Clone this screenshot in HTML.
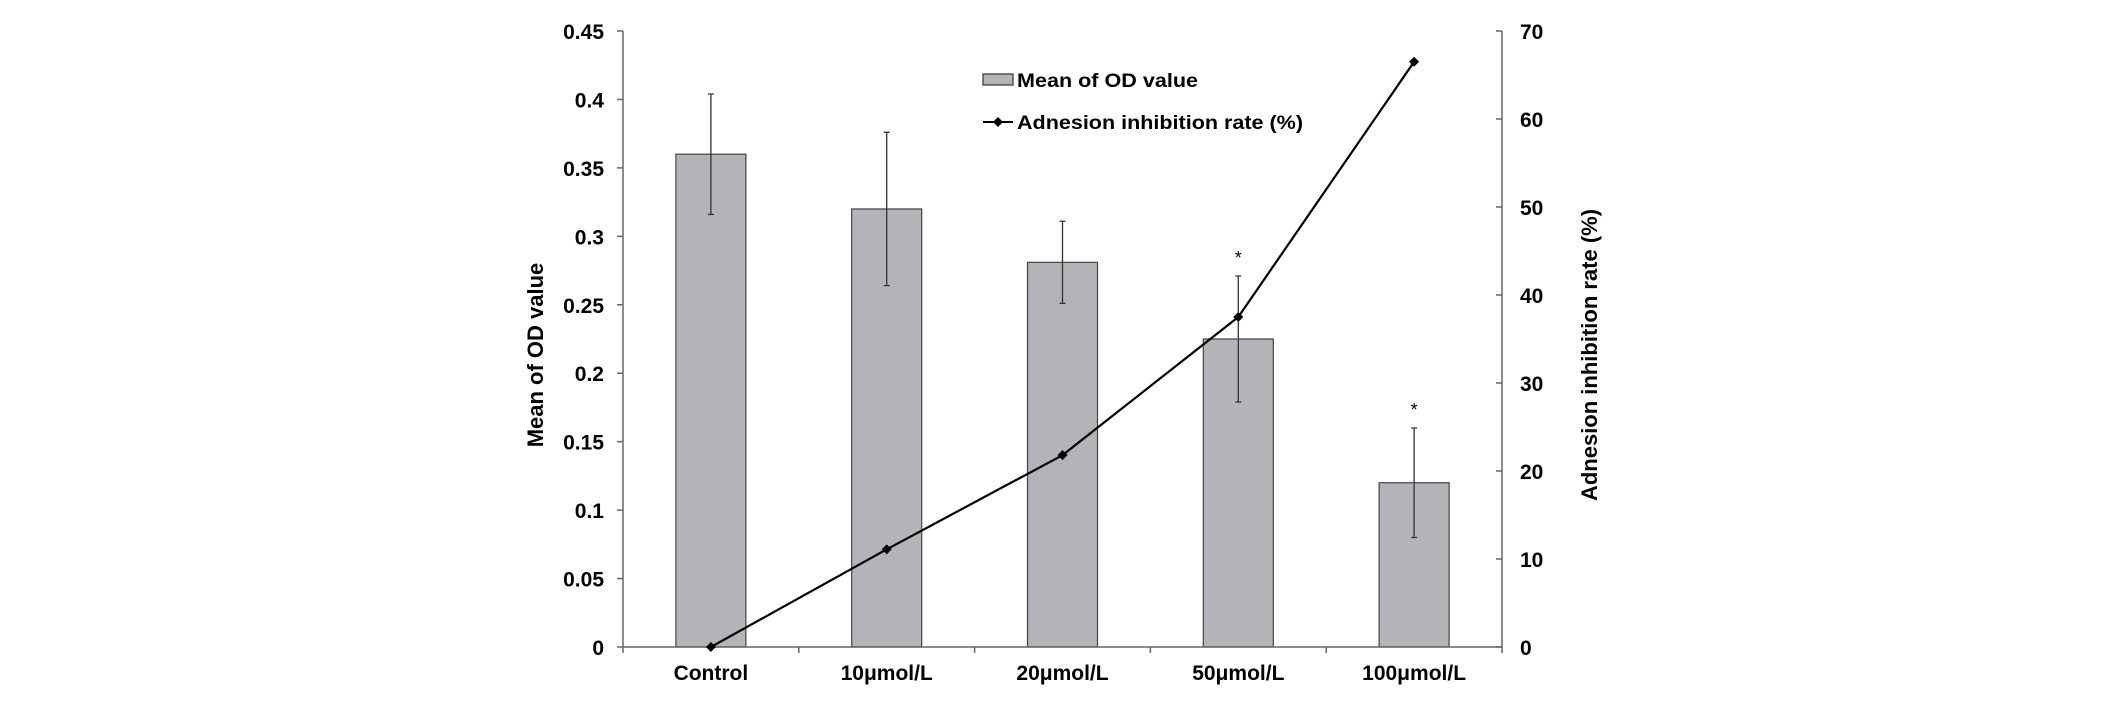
<!DOCTYPE html>
<html><head><meta charset="utf-8"><style>
html,body{margin:0;padding:0;background:#fff;}
svg{display:block;font-family:"Liberation Sans",Arial,sans-serif;font-weight:bold;}
</style></head><body>
<svg id="chart" width="2126" height="702" viewBox="0 0 2126 702" xmlns="http://www.w3.org/2000/svg">
<g id="g"></g>
<text x="0" y="0" font-size="22" text-anchor="middle" transform="translate(543,355) rotate(-90)">Mean of OD value</text>
<text x="0" y="0" font-size="22" text-anchor="middle" transform="translate(1597,355) rotate(-90)">Adnesion inhibition rate (%)</text>
<g>
<rect x="983" y="74" width="30" height="11" fill="#b4b4b8" stroke="#333" stroke-width="1.2"/>
<text x="1017" y="87" font-size="19" textLength="181" lengthAdjust="spacingAndGlyphs">Mean of OD value</text>
<line x1="983" y1="122" x2="1013" y2="122" stroke="#000" stroke-width="2"/>
<path d="M998 117 L1003 122 L998 127 L993 122 Z" fill="#000"/>
<text x="1017" y="129" font-size="19" textLength="286" lengthAdjust="spacingAndGlyphs">Adnesion inhibition rate (%)</text>
</g>
</svg>
<script>
const categories = ["Control","10μmol/L","20μmol/L","50μmol/L","100μmol/L"];
const odValues = [0.36, 0.32, 0.281, 0.225, 0.12];
const odErrors = [0.044, 0.056, 0.03, 0.046, 0.04];
const inhibitionRates = [0, 11.1, 21.8, 37.5, 66.5];
const significant = [false, false, false, true, true];
const leftTicks = [0, 0.05, 0.1, 0.15, 0.2, 0.25, 0.3, 0.35, 0.4, 0.45];
const leftTickLabels = ["0","0.05","0.1","0.15","0.2","0.25","0.3","0.35","0.4","0.45"];
const rightTicks = [0,10,20,30,40,50,60,70];

const X0=623, X1=1502, Y0=647, YT=31;
const NS="http://www.w3.org/2000/svg";
const g=document.getElementById('g');
const band=(X1-X0)/categories.length;
const xc=i=>X0+band*(i+0.5);
const yL=v=>Y0-(v/0.45)*(Y0-YT);
const yR=v=>Y0-(v/70)*(Y0-YT);
function mk(tag,attrs){const e=document.createElementNS(NS,tag);for(const k in attrs)e.setAttribute(k,attrs[k]);g.appendChild(e);return e;}

// bars
odValues.forEach((v,i)=>{
  const r=mk('rect',{x:xc(i)-35,y:yL(v),width:70,height:Y0-yL(v),fill:'#b4b4b8',stroke:'#444','stroke-width':1.2});
  
  
  const top=yL(v+odErrors[i]), bot=yL(v-odErrors[i]);
  const eb=mk('path',{d:`M${xc(i)} ${top}V${bot}M${xc(i)-3} ${top}h6M${xc(i)-3} ${bot}h6`,stroke:'#333','stroke-width':1.3,fill:'none'});
  
  
  if(significant[i]){
    const s=mk('text',{x:xc(i),y:top-12,'font-size':18,'font-weight':'normal','text-anchor':'middle'});
    s.textContent='*';
    
    
  }
  const t=mk('text',{x:xc(i),y:680,'font-size':21,'text-anchor':'middle'});
  t.textContent=categories[i];
  
  
});

// axes
const ax=mk('path',{d:`M${X0} ${YT}V${Y0}H${X1}V${YT}`,stroke:'#666','stroke-width':1.5,fill:'none'});


for(let i=0;i<=categories.length;i++){
  const t=mk('line',{x1:X0+band*i,x2:X0+band*i,y1:Y0,y2:Y0+6,stroke:'#666','stroke-width':1.5});
  
  
}
leftTicks.forEach((v,i)=>{
  const t=mk('line',{x1:X0-6,x2:X0,y1:yL(v),y2:yL(v),stroke:'#666','stroke-width':1.5});
  
  
  const l=mk('text',{x:604,y:yL(v)+8,'font-size':21,'text-anchor':'end'});
  l.textContent=leftTickLabels[i];
  
  
});
rightTicks.forEach(v=>{
  const t=mk('line',{x1:X1-6,x2:X1,y1:yR(v),y2:yR(v),stroke:'#666','stroke-width':1.5});
  
  
  const l=mk('text',{x:1520,y:yR(v)+8,'font-size':21});
  l.textContent=String(v);
  
  
});

// line
const pts=inhibitionRates.map((v,i)=>[xc(i),yR(v)]);
const ln=mk('polyline',{points:pts.map(p=>p.join(',')).join(' '),fill:'none',stroke:'#000','stroke-width':2.2});


pts.forEach((p,i)=>{
  const m=mk('path',{d:`M${p[0]} ${p[1]-5}L${p[0]+5} ${p[1]}L${p[0]} ${p[1]+5}L${p[0]-5} ${p[1]}Z`,fill:'#000'});
  
  
});
</script>
</body></html>
